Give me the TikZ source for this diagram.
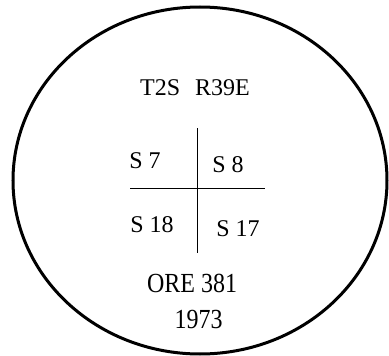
\documentclass[tikz,border=0pt]{standalone}
\usepackage{fontspec}
\setmainfont{Liberation Serif}
\usepackage{tikz}
\usepackage{graphicx}

\begin{document}
\begin{tikzpicture}[x=1pt,y=-1pt,lbl/.style={anchor=base,inner sep=0pt,font=\fontsize{24}{28}\selectfont},big/.style={anchor=base,inner sep=0pt,font=\fontsize{24}{28}\selectfont}]
\useasboundingbox (0,0) rectangle (389,356);
\draw[line width=3pt] (200,180.5) ellipse [x radius=187,y radius=173.5];
\node[lbl] (twp) at (195,95) {T2S\hspace{15pt}R39E};
\node[lbl] (s7) at (145,168) {S 7};
\node[lbl] (s8) at (228,172) {S 8};
\node[lbl] (s18) at (152,232) {S 18};
\node[lbl] (s17) at (238,236) {S 17};
\node[big] (ore) at (192,292) {\scalebox{1}[1.15]{ORE 381}};
\node[big] (yr) at (198.5,328) {\scalebox{1}[1.15]{1973}};
\coordinate (ntop) at (197,128); \coordinate (nbot) at (197,253);
\coordinate (wleft) at (130,188); \coordinate (eright) at (265,188);
\draw[line width=1pt] (ntop) -- (nbot);
\draw[line width=1pt] (wleft) -- (eright);
\end{tikzpicture}
\end{document}
